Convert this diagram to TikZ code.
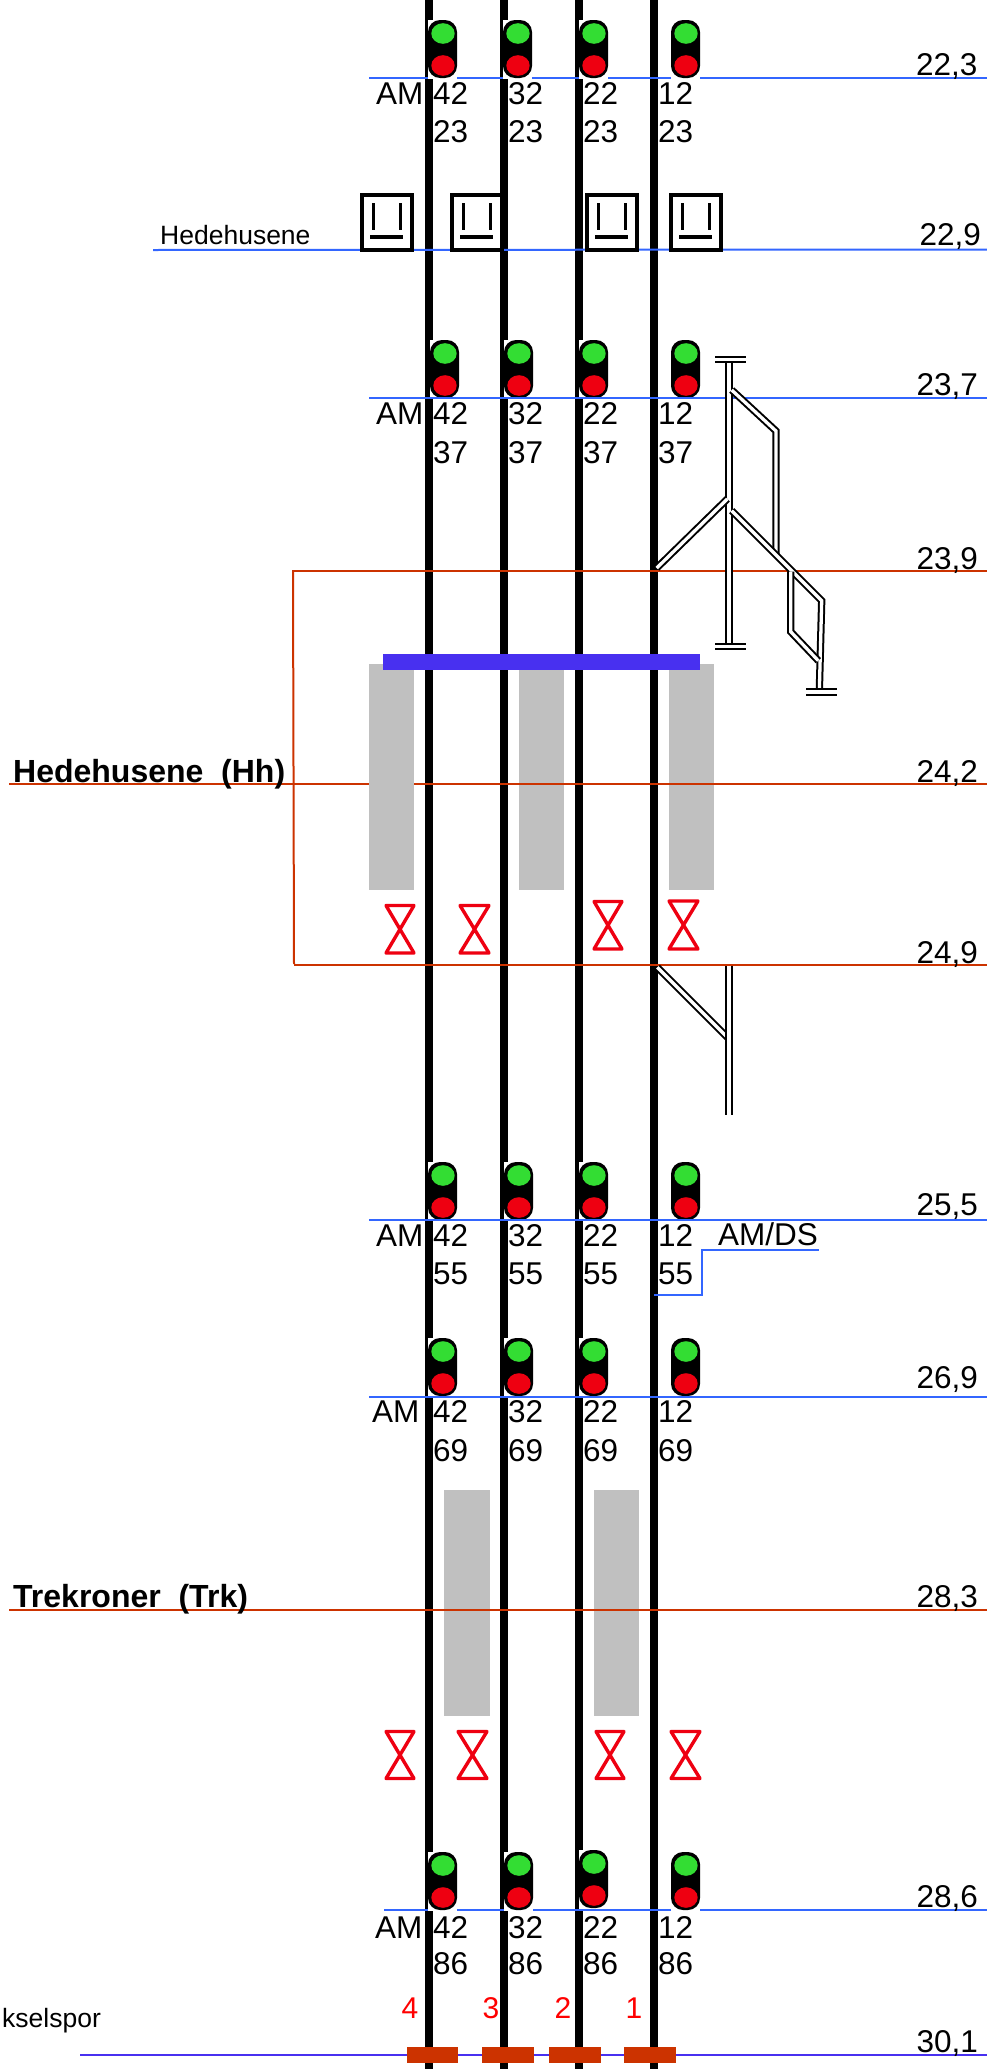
\documentclass[tikz,border=0pt]{standalone}
\usepackage{fontspec}
\setmainfont{Liberation Sans}
\definecolor{blueline}{HTML}{3366FF}
\definecolor{redline}{HTML}{CC3300}
\definecolor{platform}{HTML}{4830F0}
\definecolor{graybox}{HTML}{C0C0C0}
\definecolor{siggreen}{HTML}{33DD33}
\definecolor{sigred}{HTML}{EE0011}
\tikzset{
  trackline/.style={black,line width=8pt},
  bluerule/.style={blueline,line width=2pt},
  redrule/.style={redline,line width=2pt},
  graypanel/.style={fill=graybox,draw=none},
  rail/.style={double=white,draw=black,line width=2pt,double distance=3.3pt,line cap=butt,line join=miter},
  lbl/.style={inner sep=0pt,anchor=base west,font=\fontsize{31.5}{37}\selectfont},
  boldlbl/.style={inner sep=0pt,anchor=base west,font=\fontsize{32}{38}\selectfont\bfseries},
  smalllbl/.style={inner sep=0pt,anchor=base west,font=\fontsize{26.5}{31}\selectfont},
  redlbl/.style={inner sep=0pt,anchor=base,text=red,font=\fontsize{30}{36}\selectfont},
  hourglass/.style={draw=sigred,line width=3.4pt,line join=round},
  bufferbar/.style={fill=redline,draw=none},
}
\newcommand{\sgn}[3]{% #1 left, #2 top, #3 name
  \fill[white] (#1,#2) rectangle ++(29,58.5);
  \fill[black,rounded corners=12pt] (#1,#2) rectangle ++(29,58);
  \fill[siggreen] (#1+15,#2+13.5) ellipse (11.7pt and 10.3pt);
  \fill[sigred] (#1+15,#2+45.5) ellipse (11.7pt and 10.3pt);
}
\newcommand{\nums}[6]{% #1 row name, #2 base1, #3 base2, #4 second number, #5 AM x, #6 twelve x
  \node[lbl] (am#1) at (#5,#2) {AM};
  \node[lbl] (a#1) at (433,#2) {42};
  \node[lbl] (b#1) at (508,#2) {32};
  \node[lbl] (c#1) at (583,#2) {22};
  \node[lbl] (d#1) at (658,#2) {12};
  \node[lbl] (e#1) at (433,#3) {#4};
  \node[lbl] (f#1) at (508,#3) {#4};
  \node[lbl] (g#1) at (583,#3) {#4};
  \node[lbl] (h#1) at (658,#3) {#4};
}
\newcommand{\kasse}[1]{% #1 left
  \draw[black,line width=4pt,fill=white] (#1+2,195) rectangle (#1+52,250);
  \draw[black,line width=3pt] (#1+13.5,203) -- (#1+13.5,230);
  \draw[black,line width=3pt] (#1+40,203) -- (#1+40,230);
  \draw[black,line width=3.5pt] (#1+10,237) -- (#1+43,237);
}
\begin{document}
\begin{tikzpicture}[x=1pt,y=-1pt]
\useasboundingbox (0,0) rectangle (987,2069);
% platforms under the lines
\fill[graypanel] (519,664) rectangle (564,890);
\fill[graypanel] (669,664) rectangle (714,890);
\fill[graypanel] (444,1490) rectangle (490,1716);
\fill[graypanel] (594,1490) rectangle (639,1716);
% tracks
\foreach \tx in {429,504,579,654} \draw[trackline] (\tx,0) -- (\tx,2069);
% row 22,3 line under signals
\draw[bluerule] (369,78) -- (987,78);
\draw[bluerule] (384,1910) -- (987,1910);
\sgn{428}{20}{}\sgn{503}{20}{}\sgn{579}{20}{}\sgn{671}{20}{}
\sgn{428}{1852}{}\sgn{504}{1852}{}\sgn{579}{1850}{}\sgn{671}{1852}{}
% signals under their lines
\sgn{430}{340}{}\sgn{504}{340}{}\sgn{579}{340}{}\sgn{671}{340}{}
\sgn{428}{1162}{}\sgn{504}{1162}{}\sgn{579}{1162}{}\sgn{671}{1162}{}
\sgn{428}{1338}{}\sgn{504}{1338}{}\sgn{579}{1338}{}\sgn{671}{1338}{}
% lines
\draw[bluerule] (153,250) -- (987,249.5);
\draw[bluerule] (369,398) -- (987,398);
\draw[bluerule] (369,1220) -- (987,1220);
\draw[bluerule] (369,1396.5) -- (987,1396.5);
\draw[bluerule] (654,1295) -- (702,1295) -- (702,1250) -- (819,1250);
\draw[redrule] (292,571) -- (987,571);
\draw[redrule] (293,571) -- (294,964);
\draw[redrule] (294,965) -- (987,965);
\draw[redrule] (9,784) -- (987,784);
\draw[redrule] (9,1610) -- (987,1610);
\draw[platform,line width=2pt] (80,2055) -- (987,2055);
% front platform and canopy
\fill[graypanel] (369,664) rectangle (414,890);
\fill[platform] (383,654) rectangle (700,670);
% station boxes
\kasse{360}\kasse{450}\kasse{585}\kasse{669}
% turnouts
\draw[rail] (729,356) -- (729,647);
\draw[rail] (715,359.5) -- (746,359.5);
\draw[rail] (715,646.7) -- (746,646.7);
\draw[rail] (656.7,568) -- (727.3,499);
\draw[rail] (731.7,390) -- (776,431) -- (776,555);
\draw[rail] (731.7,510.7) -- (821.7,600.7) -- (819.3,692);
\draw[rail] (806,692) -- (836.7,692);
\draw[rail] (790.7,571.7) -- (790.7,631.7) -- (818.3,660.7);
\draw[rail] (657.3,967.3) -- (727.3,1037.3);
\draw[rail] (729,965.7) -- (729,1114.7);
% hourglasses
\draw[hourglass] (386,905.5) -- (414,905.5) -- (386,953) -- (414,953) -- cycle;
\draw[hourglass] (460,905.5) -- (489,905.5) -- (460,953) -- (489,953) -- cycle;
\draw[hourglass] (594,901.5) -- (622,901.5) -- (594,949) -- (622,949) -- cycle;
\draw[hourglass] (669,901) -- (698,901) -- (669,949) -- (698,949) -- cycle;
\draw[hourglass] (386,1731.5) -- (414,1731.5) -- (386,1778.5) -- (414,1778.5) -- cycle;
\draw[hourglass] (458,1731.5) -- (487,1731.5) -- (458,1778.5) -- (487,1778.5) -- cycle;
\draw[hourglass] (596,1731.5) -- (624,1731.5) -- (596,1778.5) -- (624,1778.5) -- cycle;
\draw[hourglass] (671,1731.5) -- (700,1731.5) -- (671,1778.5) -- (700,1778.5) -- cycle;
% bottom bars
\fill[bufferbar] (407,2047) rectangle (458,2063);
\fill[bufferbar] (482,2047) rectangle (533.5,2063);
\fill[bufferbar] (549,2047) rectangle (600.5,2063);
\fill[bufferbar] (624,2047) rectangle (676,2063);
% numbers
\nums{r1}{104}{142}{23}{376}{658}
\nums{r2}{424}{463}{37}{376}{658}
\nums{r3}{1246}{1284}{55}{376}{658}
\nums{r4}{1422}{1461}{69}{372}{658}
\nums{r5}{1938}{1974}{86}{375}{658}
\node[lbl] (amds) at (718,1245) {AM/DS};
% km labels
\node[lbl] (k1) at (916,75) {22,3};
\node[lbl] (k2) at (919.5,245) {22,9};
\node[lbl] (k3) at (916.5,395) {23,7};
\node[lbl] (k4) at (916.5,569) {23,9};
\node[lbl] (k5) at (916.5,782) {24,2};
\node[lbl] (k6) at (916.5,963) {24,9};
\node[lbl] (k7) at (916.5,1215) {25,5};
\node[lbl] (k8) at (916.5,1388) {26,9};
\node[lbl] (k9) at (916.5,1607) {28,3};
\node[lbl] (k10) at (916.5,1907) {28,6};
\node[lbl] (k11) at (916.5,2052) {30,1};
% names
\node[boldlbl] (hh) at (13,782) {Hedehusene\ \ (Hh)};
\node[boldlbl] (trk) at (13,1607) {Trekroner\ \ (Trk)};
\node[smalllbl] (hs) at (160,244) {Hedehusene};
\node[smalllbl] (vs) at (2,2027) {kselspor};
\node[redlbl] (n4) at (410,2018) {4};
\node[redlbl] (n3) at (491,2018) {3};
\node[redlbl] (n2) at (563,2018) {2};
\node[redlbl] (n1) at (634,2018) {1};
\end{tikzpicture}
\end{document}
